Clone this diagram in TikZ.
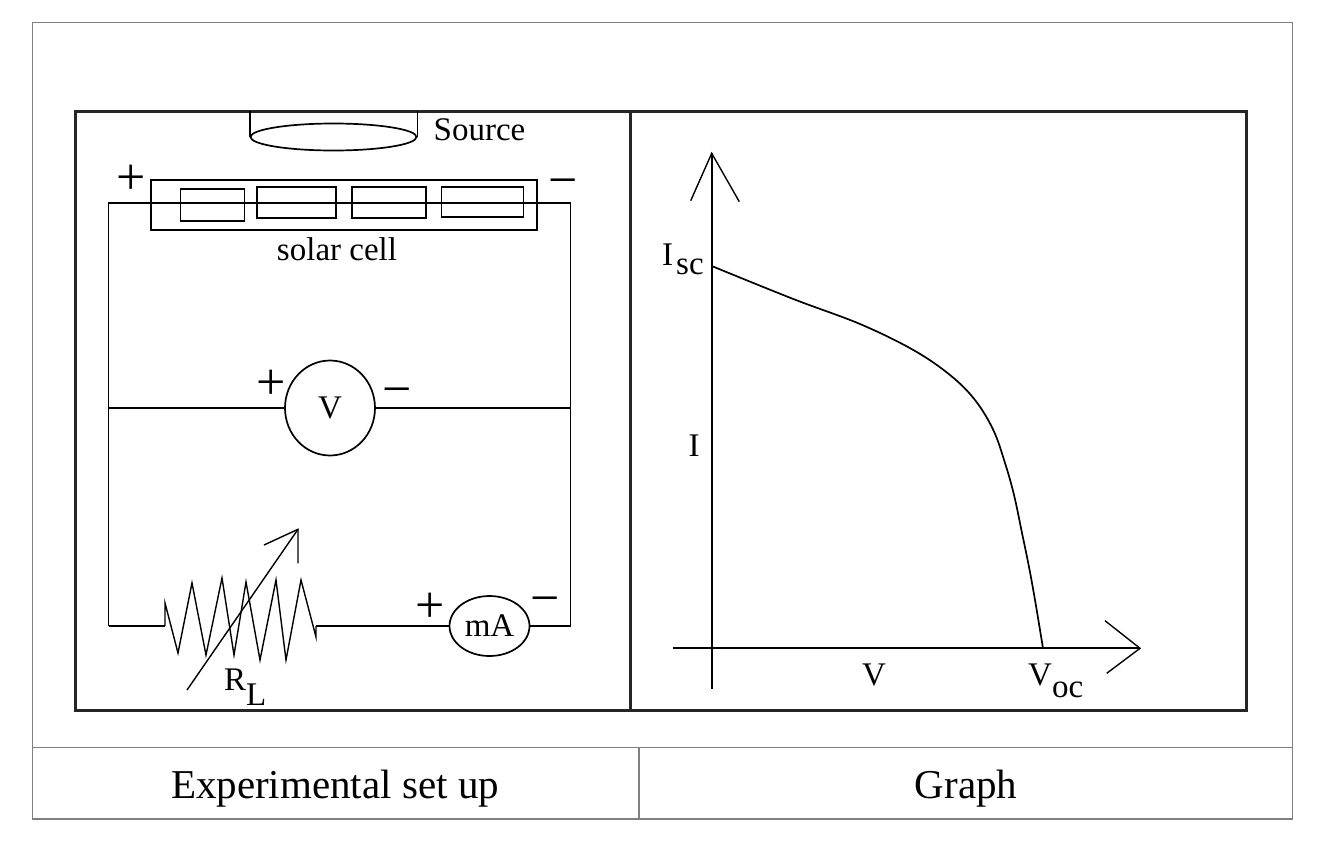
\documentclass[tikz,border=0pt]{standalone}
\usepackage{fontspec}
\setmainfont{Liberation Serif}
\usetikzlibrary{shapes.geometric}
\begin{document}
\begin{tikzpicture}[x=1pt,y=-1pt,
  wire/.style={line width=1.7pt, draw=black},
  thinwire/.style={line width=1.4pt, draw=black},
  frame/.style={line width=3pt, draw=black!85},
  grid/.style={line width=1.4pt, draw=black!50},
  lbl/.style={font=\rmfamily\fontsize{33}{36}\selectfont, inner sep=0pt},
  sign/.style={font=\rmfamily\fontsize{52}{56}\selectfont, inner sep=0pt},
  captext/.style={font=\rmfamily\fontsize{41}{46}\selectfont, inner sep=0pt},
  meter/.style={ellipse, wire, inner sep=0pt, font=\rmfamily\fontsize{33}{36}\selectfont},
  cellbox/.style={rectangle, wire, inner sep=0pt}
]
\useasboundingbox (0,0) rectangle (1330,852);
% table
\draw[grid] (32.5,22.5) rectangle (1292.5,819);
\draw[grid] (32.5,747.7) -- (1292.5,747.7);
\draw[grid] (639,747.7) -- (639,819);
\node[captext, anchor=base] (capL) at (335,798) {Experimental set up};
\node[captext, anchor=base] (capR) at (966,798) {Graph};
% frame
\draw[frame] (75,111) rectangle (1246.7,710.7);
\draw[frame] (630.7,111) -- (630.7,710.7);
\coordinate (ftop) at (0,111);
% source
\node[meter, minimum width=166pt, minimum height=27pt] (src) at (333.5,137) {};
\draw[wire] (src.west) -- (src.west |- ftop);
\draw[wire] (src.east) -- (src.east |- ftop);
\node[lbl, anchor=base] (srcl) at (479.5,140) {Source};
% solar cell
\node[cellbox, minimum width=385.8pt, minimum height=50pt] (sc) at (344,205) {};
\draw[wire] (180.4,189) rectangle (244.6,221);
\draw[wire] (257,187.3) rectangle (336,218.3);
\draw[wire] (351.8,187.3) rectangle (426,218.3);
\draw[wire] (441.4,187.3) rectangle (523.6,216.7);
\node[lbl, anchor=base] (scl) at (337,260) {solar cell};
\node[sign, anchor=base] (scp) at (131.5,194) {+};
\node[sign, anchor=base] (scm) at (563.3,197.3) {−};
% circuit
\coordinate (tl) at (108.6,203.3);
\coordinate (tr) at (570.5,203.3);
\coordinate (bl) at (108.6,626);
\coordinate (br) at (570.5,626);
\coordinate (ml) at (108.6,408);
\coordinate (mr) at (570.5,408);
\draw[wire] (bl) -- (tl) -- (tr) -- (br);
\node[meter, minimum width=90pt, minimum height=95pt] (vm) at (330,408) {V};
\draw[wire] (ml) -- (vm.west);
\draw[wire] (vm.east) -- (mr);
\node[sign, anchor=base] (vp) at (271,399.7) {+};
\node[sign, anchor=base] (vmm) at (397.2,406.3) {−};
\node[meter, minimum width=80pt, minimum height=60pt] (ma) at (489.5,626) {mA};
\node[sign, anchor=base] (map) at (430,622) {+};
\node[sign, anchor=base] (mam) at (545.5,615.7) {−};
\coordinate (r0) at (165,626);
\coordinate (r1) at (316,626);
\draw[wire] (bl) -- (r0);
\draw[thinwire, line join=miter] (r0) -- (165,603) -- (178,653) -- (192,583) -- (206,655) -- (222,578) -- (234,655) -- (246,582) -- (260,660) -- (276,580) -- (286,660) -- (301,580) -- (316,637) -- (r1);
\draw[wire] (r1) -- (ma.west);
\draw[wire] (ma.east) -- (br);
\coordinate (va) at (187,690);
\coordinate (vb) at (298,529.3);
\draw[thinwire] (va) -- (vb);
\draw[thinwire] (264,545) -- (vb) -- (298,563.3);
\node[lbl, anchor=base west] (rl) at (224,690) {R\raisebox{-15pt}{L}};
% graph
\coordinate (ytop) at (711.7,153.3);
\coordinate (ybot) at (711.7,689.3);
\coordinate (xl) at (672.7,648.3);
\coordinate (xr) at (1140,648.3);
\draw[wire] (ybot) -- (ytop);
\draw[thinwire] (690.7,200.7) -- (ytop) -- (739.3,201.7);
\draw[wire] (xl) -- (xr);
\draw[thinwire] (1105,620.7) -- (xr) -- (1106.7,673.3);
\draw[wire] plot[smooth, tension=0.6] coordinates {(711.7,266) (793.3,299) (860,324) (913.3,350) (950,375) (975,400) (993.3,430) (1005,463) (1014,495) (1022,533) (1029,567) (1035,600) (1043,648.3)};
\node[lbl, anchor=base west] (isc) at (662,265) {I\hspace{3pt}\raisebox{-9pt}{sc}};
\node[lbl, anchor=base] (il) at (694,456) {I};
\node[lbl, anchor=base] (vl) at (874,685) {V};
\node[lbl, anchor=base west] (voc) at (1028,685) {V\raisebox{-12pt}{oc}};
\end{tikzpicture}
\end{document}
